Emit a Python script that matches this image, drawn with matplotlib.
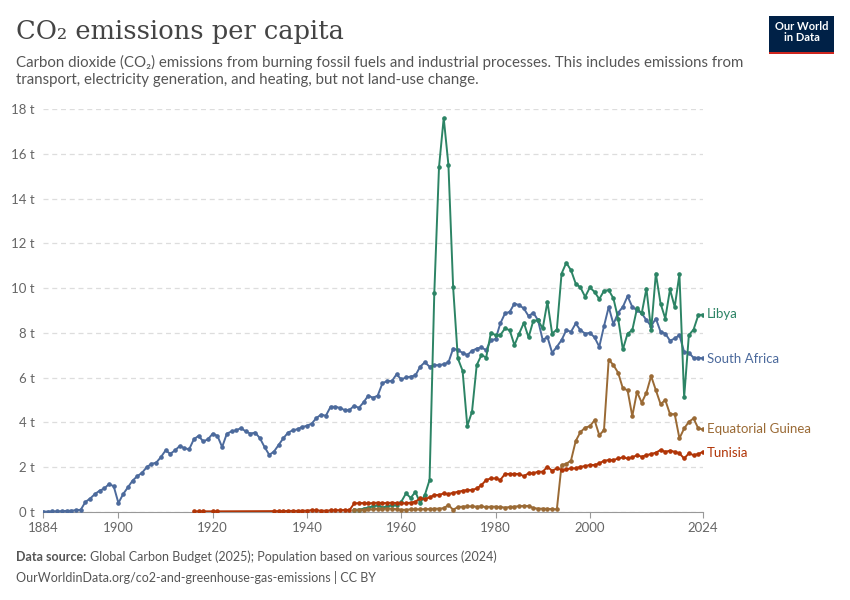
import matplotlib
matplotlib.use("Agg")
import matplotlib.pyplot as plt
import numpy as np

# South Africa, 1884-1959 and 1960-2024
sa_early = [0.02, 0.02, 0.03, 0.03, 0.04, 0.05, 0.06, 0.08, 0.1,
            0.45, 0.6, 0.8, 0.95, 1.05, 1.25, 1.15,
            0.4, 0.8, 1.1, 1.4, 1.6, 1.75, 2.0, 2.15, 2.2, 2.45,
            2.75, 2.6, 2.75, 2.95, 2.85, 2.8, 3.25, 3.4, 3.15, 3.25,
            3.5, 3.4, 2.9, 3.5, 3.6, 3.65, 3.75, 3.6, 3.5, 3.55,
            3.3, 2.9, 2.55, 2.7, 3.0, 3.3, 3.55, 3.65, 3.7, 3.8,
            3.85, 3.95, 4.2, 4.35, 4.3, 4.7, 4.7, 4.65, 4.55, 4.55,
            4.75, 4.65, 4.9, 5.2, 5.1, 5.2, 5.75, 5.85, 5.85, 6.15]
sa_late = [5.92, 6.01, 6.05, 6.10, 6.49, 6.69, 6.49, 6.56, 6.56, 6.60,
           6.68, 7.30, 7.23, 7.11, 7.01, 7.20, 7.30, 7.35, 7.23, 7.68,
           7.72, 8.42, 8.87, 8.94, 9.31, 9.24, 9.09, 8.75, 8.90, 8.57,
           7.68, 7.82, 7.11, 7.38, 7.68, 8.12, 8.05, 8.42, 8.12, 7.97,
           8.0, 7.8, 7.38, 8.3, 9.16, 8.39, 8.9, 9.16, 9.64, 9.16,
           9.01, 8.87, 8.57, 8.3, 8.64, 8.05, 7.97, 7.65, 7.75, 7.9,
           7.15, 7.11, 6.89, 6.89, 6.86]

# Libya, 1950-2024
libya = [0.1, 0.1, 0.15, 0.2, 0.25, 0.3, 0.2, 0.25, 0.3, 0.3,
         0.46, 0.83, 0.63, 0.9, 0.39, 0.76, 1.43, 9.76, 15.4, 17.6,
         15.5, 10.03, 6.86, 6.31, 3.84, 4.48, 6.56, 7.01, 6.9, 8.0,
         7.9, 7.9, 8.2, 8.12, 7.45, 7.97, 8.45, 7.8, 8.54, 8.57,
         8.2, 9.39, 7.97, 8.15, 10.65, 11.13, 10.8, 10.2, 10.03, 9.61,
         10.03, 9.83, 9.51, 9.88, 9.91, 9.54, 8.64, 7.26, 7.97, 8.12,
         9.09, 8.87, 9.98, 8.12, 10.65, 9.31, 8.64, 9.94, 9.16, 10.62,
         5.12, 7.9, 8.15, 8.79, 8.82]

# Equatorial Guinea, 1950-2024
eq_guinea = [0.1, 0.1, 0.1, 0.12, 0.12, 0.15, 0.15, 0.15, 0.15, 0.12,
             0.1, 0.1, 0.12, 0.12, 0.12, 0.13, 0.13, 0.15, 0.15, 0.17,
             0.31, 0.1, 0.22, 0.24, 0.25, 0.25, 0.24, 0.25, 0.22, 0.24,
             0.24, 0.22, 0.2, 0.22, 0.24, 0.26, 0.27, 0.27, 0.18, 0.15,
             0.15, 0.14, 0.13, 0.12,
             2.1, 2.15, 2.3, 3.17, 3.57, 3.77, 3.83, 4.1, 3.43, 3.66,
             6.81, 6.56, 6.22, 5.52, 5.44, 4.28, 5.37, 4.88, 5.33, 6.07,
             5.44, 4.82, 5.0, 4.37, 4.37, 3.29, 3.73, 4.03, 4.18, 3.73, 3.69]

# Tunisia: sparse early years, continuous from 1933
tun_years = [1916, 1917, 1918, 1920, 1921] + list(range(1933, 2025))
tunisia = [0.03, 0.03, 0.03, 0.03, 0.03,
           0.04, 0.04, 0.04, 0.05, 0.05, 0.05, 0.06, 0.06, 0.08, 0.07,
           0.06, 0.06, 0.07, 0.08, 0.08, 0.09, 0.08,
           0.38, 0.4, 0.4, 0.38, 0.4, 0.42, 0.4, 0.4, 0.42, 0.4,
           0.39, 0.39, 0.42, 0.46, 0.61, 0.58, 0.65, 0.76, 0.76, 0.83,
           0.8, 0.86, 0.9, 0.95, 0.98, 0.98, 1.05, 1.2, 1.43, 1.5,
           1.5, 1.43, 1.7, 1.7, 1.7, 1.7, 1.6, 1.73, 1.73, 1.8,
           1.8, 2.02, 1.84, 1.95, 1.88, 1.9, 1.95, 1.95, 2.02, 2.05,
           2.1, 2.1, 2.17, 2.29, 2.32, 2.32, 2.39, 2.44, 2.39, 2.44,
           2.54, 2.47, 2.54, 2.59, 2.65, 2.77, 2.69, 2.74, 2.69, 2.62,
           2.39, 2.62, 2.54, 2.59, 2.69]

x_ticks = [1884, 1900, 1920, 1940, 1960, 1980, 2000, 2024]
y_ticks = [0, 2, 4, 6, 8, 10, 12, 14, 16, 18]

series = [
    ("South Africa", list(range(1884, 1960)) + list(range(1960, 1960 + len(sa_late))),
     sa_early + sa_late, "#4c6a9c"),
    ("Libya", list(range(2025 - len(libya), 2025)), libya, "#2c8465"),
    ("Equatorial Guinea", list(range(2025 - len(eq_guinea), 2025)), eq_guinea, "#9a6a35"),
    ("Tunisia", tun_years, tunisia, "#b13507"),
]
label_y = {"Libya": 8.85, "South Africa": 6.85, "Equatorial Guinea": 3.7, "Tunisia": 2.65}

fig = plt.figure(figsize=(8.5, 6), dpi=100)
ax = fig.add_axes([43 / 850, 1 - 512 / 600, 660 / 850, 403 / 600])

for name, yrs, vals, col in series:
    ax.plot(yrs, vals, color=col, lw=1.4, marker="o", ms=2.3, zorder=3)
    ax.text(2024.9, label_y[name], name, color=col, fontsize=9.5,
            va="center", ha="left", family="Lato")

ax.set_xlim(1884, 2024)
ax.set_ylim(0, 18)
ax.set_xticks(x_ticks)
ax.set_xticklabels([str(t) for t in x_ticks], fontsize=9.5, color="#666666", family="Lato")
ax.set_yticks(y_ticks)
ax.set_yticklabels([f"{t} t" for t in y_ticks], fontsize=9.5, color="#666666", family="Lato")
ax.grid(axis="y", color="#dddddd", ls=(0, (4, 3)), lw=0.9)
ax.set_axisbelow(True)
for s in ["top", "right", "left"]:
    ax.spines[s].set_visible(False)
ax.spines["bottom"].set_color("#999999")
ax.tick_params(axis="y", length=0, pad=6)
ax.tick_params(axis="x", length=4, color="#999999", pad=3)

fig.text(16 / 850, 1 - 32 / 600, "CO₂ emissions per capita", fontsize=18.5,
         family="DejaVu Serif", color="#444444", va="center")
fig.text(16 / 850, 1 - 71 / 600,
         "Carbon dioxide (CO₂) emissions from burning fossil fuels and industrial processes. This includes emissions from\n"
         "transport, electricity generation, and heating, but not land-use change.",
         fontsize=10.8, color="#555555", va="center", family="Lato", linespacing=1.3)
fig.text(16 / 850, 1 - 557 / 600, "Data source:", fontsize=9, color="#555555",
         weight="bold", family="Lato", va="center")
fig.text(90 / 850, 1 - 557 / 600,
         "Global Carbon Budget (2025); Population based on various sources (2024)",
         fontsize=9, color="#555555", family="Lato", va="center")
fig.text(16 / 850, 1 - 577 / 600,
         "OurWorldinData.org/co2-and-greenhouse-gas-emissions | CC BY",
         fontsize=9, color="#555555", family="Lato", va="center")

logo = fig.add_axes([769 / 850, 1 - 52 / 600, 65 / 850, 36 / 600])
logo.set_facecolor("#002147")
logo.set_xticks([])
logo.set_yticks([])
for s in logo.spines.values():
    s.set_visible(False)
logo.text(0.5, 0.55, "Our World\nin Data", color="white", fontsize=8,
          ha="center", va="center", weight="bold", family="Lato", linespacing=1.0)
bar = fig.add_axes([769 / 850, 1 - 54 / 600, 65 / 850, 2.5 / 600])
bar.set_facecolor("#ce261e")
bar.set_xticks([])
bar.set_yticks([])
for s in bar.spines.values():
    s.set_visible(False)

fig.savefig("out.png", dpi=100)
